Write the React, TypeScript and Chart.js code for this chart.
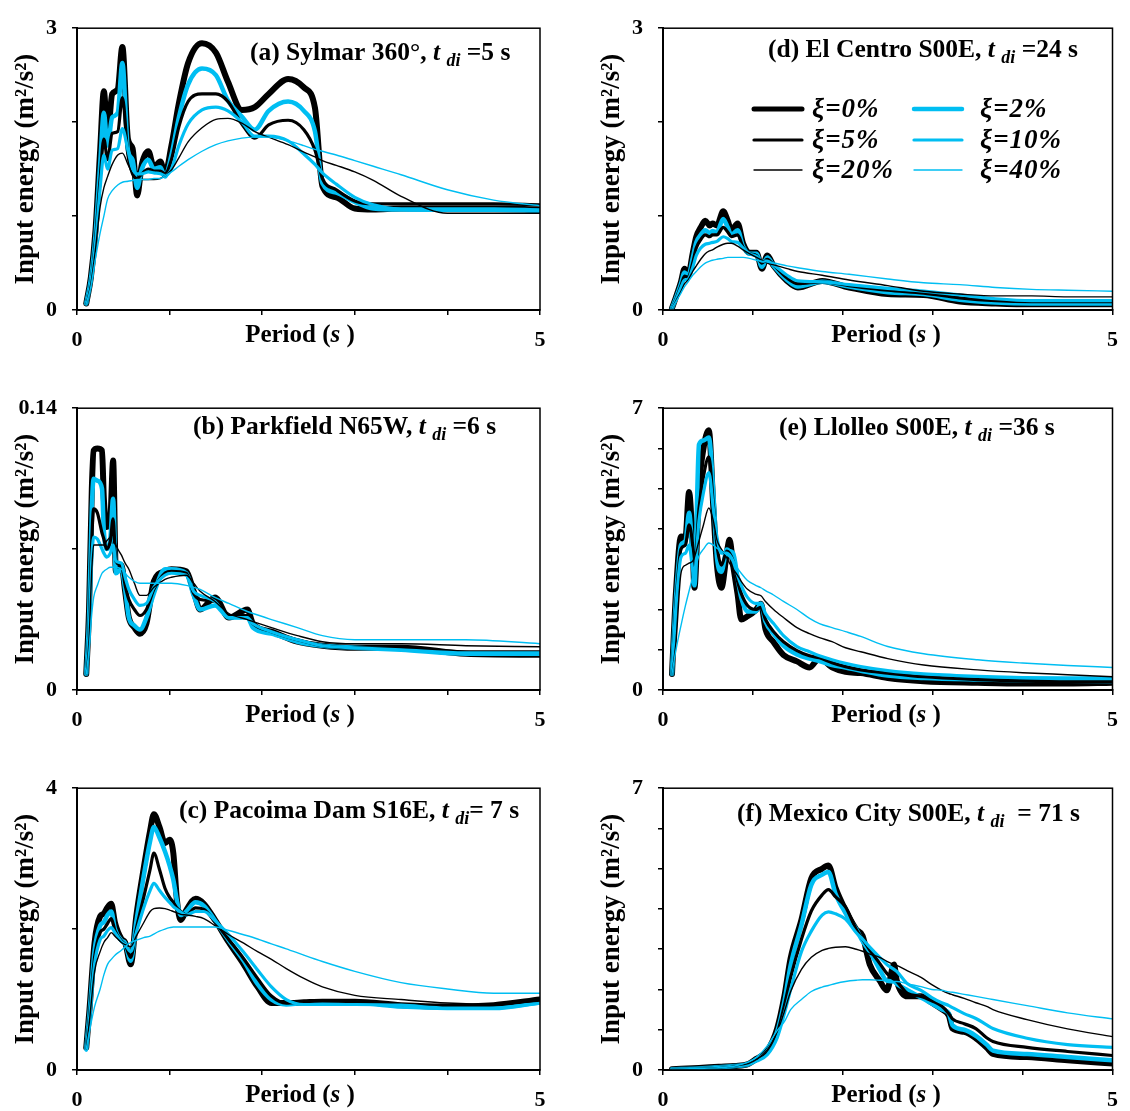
import React, { useEffect, useRef } from 'react';
import { Chart, registerables } from 'chart.js';

Chart.register(...registerables);

// ---------------- DATA ----------------
const dampingLabels = ['ξ=0%', 'ξ=2%', 'ξ=5%', 'ξ=10%', 'ξ=20%', 'ξ=40%'];
const xTickLabels = ['0', '5'];

// (a) Sylmar 360°
const sylmarPeriods = [0.1, 0.15, 0.2, 0.25, 0.29, 0.33, 0.38, 0.44, 0.49, 0.55, 0.6, 0.65, 0.7, 0.77, 0.83, 0.9, 0.95, 1.02, 1.1, 1.2, 1.35, 1.5, 1.63, 1.78, 1.92, 2.07, 2.28, 2.45, 2.57, 2.65, 2.8, 3.0, 3.2, 3.5, 4.0, 4.5, 5.0];
const sylmarXi0 = [0.07, 0.35, 0.85, 1.7, 2.33, 1.85, 2.3, 2.35, 2.8, 1.82, 1.72, 1.22, 1.55, 1.69, 1.52, 1.58, 1.45, 1.75, 2.2, 2.63, 2.84, 2.74, 2.43, 2.13, 2.16, 2.3, 2.46, 2.37, 2.15, 1.32, 1.2, 1.08, 1.07, 1.08, 1.08, 1.08, 1.07];
const sylmarXi2 = [0.07, 0.33, 0.8, 1.55, 2.1, 1.75, 2.05, 2.1, 2.63, 1.7, 1.6, 1.3, 1.5, 1.6, 1.5, 1.52, 1.42, 1.65, 2.05, 2.4, 2.57, 2.5, 2.23, 2.06, 1.92, 2.12, 2.22, 2.12, 1.9, 1.35, 1.25, 1.15, 1.08, 1.07, 1.07, 1.07, 1.06];
const sylmarXi5 = [0.07, 0.3, 0.75, 1.4, 1.82, 1.6, 1.88, 1.9, 2.26, 1.65, 1.45, 1.4, 1.45, 1.5, 1.48, 1.48, 1.45, 1.6, 1.95, 2.22, 2.3, 2.3, 2.22, 1.98, 1.83, 1.97, 2.02, 1.92, 1.7, 1.4, 1.28, 1.16, 1.13, 1.13, 1.13, 1.13, 1.12];
const sylmarXi10 = [0.07, 0.3, 0.7, 1.3, 1.65, 1.5, 1.7, 1.72, 1.93, 1.7, 1.5, 1.45, 1.45, 1.47, 1.46, 1.45, 1.43, 1.5, 1.75, 1.98, 2.13, 2.16, 2.12, 2.0, 1.85, 1.85, 1.8, 1.66, 1.55, 1.46, 1.34, 1.2, 1.12, 1.07, 1.06, 1.06, 1.05];
const sylmarXi20 = [0.07, 0.28, 0.65, 1.1, 1.3, 1.42, 1.55, 1.65, 1.67, 1.55, 1.45, 1.4, 1.39, 1.39, 1.39, 1.4, 1.43, 1.49, 1.62, 1.79, 1.94, 2.03, 2.04, 1.99, 1.9, 1.84, 1.76, 1.68, 1.63, 1.59, 1.54, 1.47, 1.38, 1.21, 1.03, 1.03, 1.03];
const sylmarXi40 = [0.07, 0.25, 0.55, 0.82, 1.0, 1.18, 1.27, 1.33, 1.36, 1.37, 1.38, 1.39, 1.39, 1.39, 1.4, 1.4, 1.43, 1.47, 1.53, 1.6, 1.69, 1.76, 1.8, 1.83, 1.84, 1.84, 1.8, 1.75, 1.71, 1.69, 1.65, 1.59, 1.53, 1.44, 1.28, 1.17, 1.11];

// (b) Parkfield N65W
const parkfieldPeriods = [0.1, 0.13, 0.16, 0.18, 0.22, 0.27, 0.29, 0.32, 0.36, 0.39, 0.42, 0.48, 0.52, 0.56, 0.62, 0.68, 0.75, 0.83, 0.95, 1.02, 1.18, 1.26, 1.33, 1.49, 1.64, 1.84, 1.9, 2.1, 2.38, 2.65, 3.0, 3.5, 4.2, 5.0];
const parkfieldXi0 = [0.008, 0.04, 0.1, 0.119, 0.12, 0.119, 0.095, 0.081, 0.085, 0.114, 0.059, 0.062, 0.049, 0.036, 0.031, 0.028, 0.033, 0.054, 0.059, 0.06, 0.059, 0.049, 0.04, 0.046, 0.036, 0.04, 0.033, 0.029, 0.024, 0.022, 0.021, 0.021, 0.018, 0.0175];
const parkfieldXi2 = [0.008, 0.035, 0.09, 0.105, 0.104, 0.1, 0.079, 0.07, 0.075, 0.095, 0.058, 0.06, 0.05, 0.036, 0.032, 0.03, 0.036, 0.048, 0.06, 0.06, 0.058, 0.047, 0.04, 0.042, 0.036, 0.036, 0.031, 0.028, 0.024, 0.022, 0.021, 0.02, 0.018, 0.018];
const parkfieldXi5 = [0.008, 0.03, 0.075, 0.09, 0.088, 0.078, 0.075, 0.07, 0.074, 0.085, 0.064, 0.062, 0.052, 0.045, 0.04, 0.037, 0.04, 0.05, 0.058, 0.059, 0.058, 0.048, 0.045, 0.044, 0.037, 0.037, 0.033, 0.029, 0.025, 0.022, 0.021, 0.021, 0.019, 0.019];
const parkfieldXi10 = [0.008, 0.028, 0.065, 0.076, 0.075, 0.07, 0.068, 0.066, 0.068, 0.072, 0.064, 0.063, 0.056, 0.05, 0.045, 0.042, 0.043, 0.051, 0.057, 0.058, 0.057, 0.049, 0.047, 0.044, 0.036, 0.036, 0.033, 0.029, 0.025, 0.022, 0.021, 0.02, 0.0185, 0.0185];
const parkfieldXi20 = [0.008, 0.025, 0.06, 0.072, 0.072, 0.072, 0.072, 0.074, 0.076, 0.077, 0.072, 0.067, 0.063, 0.06, 0.053, 0.047, 0.047, 0.051, 0.055, 0.056, 0.057, 0.053, 0.049, 0.044, 0.038, 0.035, 0.034, 0.031, 0.027, 0.024, 0.023, 0.023, 0.022, 0.0215];
const parkfieldXi40 = [0.008, 0.02, 0.038, 0.046, 0.052, 0.058, 0.059, 0.06, 0.061, 0.061, 0.061, 0.06, 0.058, 0.056, 0.054, 0.053, 0.053, 0.053, 0.053, 0.053, 0.052, 0.051, 0.05, 0.046, 0.043, 0.039, 0.038, 0.035, 0.031, 0.027, 0.025, 0.025, 0.025, 0.023];

// (c) Pacoima Dam S16E
const pacoimaPeriods = [0.1, 0.135, 0.19, 0.25, 0.29, 0.33, 0.37, 0.41, 0.48, 0.52, 0.58, 0.64, 0.72, 0.79, 0.83, 0.89, 0.95, 1.0, 1.04, 1.08, 1.12, 1.18, 1.28, 1.37, 1.49, 1.64, 1.8, 1.95, 2.1, 2.26, 2.45, 2.65, 3.0, 3.5, 4.0, 4.5, 5.0];
const pacoimaXi0 = [0.32, 0.86, 1.81, 2.18, 2.22, 2.31, 2.36, 2.09, 1.86, 1.81, 1.5, 2.18, 2.86, 3.4, 3.63, 3.45, 3.22, 3.27, 3.08, 2.4, 2.13, 2.27, 2.43, 2.36, 2.13, 1.81, 1.5, 1.18, 0.95, 0.95, 0.96, 0.97, 0.97, 0.92, 0.9, 0.92, 1.0];
const pacoimaXi2 = [0.3, 0.8, 1.7, 2.05, 2.1, 2.2, 2.25, 2.0, 1.84, 1.8, 1.55, 2.1, 2.75, 3.25, 3.45, 3.3, 3.1, 2.9, 2.7, 2.4, 2.2, 2.25, 2.38, 2.33, 2.12, 1.84, 1.55, 1.22, 1.0, 0.93, 0.95, 0.95, 0.95, 0.9, 0.88, 0.88, 0.96];
const pacoimaXi5 = [0.3, 0.78, 1.6, 1.95, 2.0, 2.08, 2.15, 1.98, 1.83, 1.78, 1.6, 2.0, 2.45, 2.85, 3.08, 2.85, 2.58, 2.45, 2.38, 2.3, 2.25, 2.2, 2.3, 2.28, 2.1, 1.85, 1.58, 1.3, 1.05, 0.95, 0.97, 0.98, 0.97, 0.93, 0.9, 0.92, 1.0];
const pacoimaXi10 = [0.28, 0.72, 1.5, 1.85, 1.9, 1.98, 2.02, 1.95, 1.82, 1.78, 1.68, 1.95, 2.3, 2.55, 2.65, 2.55, 2.45, 2.38, 2.32, 2.28, 2.24, 2.2, 2.25, 2.25, 2.12, 1.92, 1.67, 1.42, 1.18, 1.0, 0.93, 0.93, 0.93, 0.92, 0.88, 0.88, 0.95];
const pacoimaXi20 = [0.3, 0.7, 1.4, 1.68, 1.81, 1.88, 1.95, 1.9, 1.81, 1.78, 1.75, 1.9, 2.09, 2.25, 2.29, 2.3, 2.29, 2.27, 2.25, 2.23, 2.21, 2.2, 2.18, 2.15, 2.05, 1.92, 1.8, 1.68, 1.57, 1.44, 1.3, 1.18, 1.06, 1.0, 0.95, 0.93, 0.98];
const pacoimaXi40 = [0.3, 0.55, 0.9, 1.15, 1.35, 1.5, 1.57, 1.63, 1.7, 1.75, 1.81, 1.84, 1.88, 1.9, 1.93, 1.97, 2.0, 2.02, 2.03, 2.03, 2.03, 2.03, 2.03, 2.03, 2.03, 1.98, 1.92, 1.86, 1.79, 1.72, 1.63, 1.54, 1.4, 1.24, 1.15, 1.09, 1.09];

// (d) El Centro S00E
const elCentroPeriods = [0.1, 0.145, 0.2, 0.24, 0.28, 0.33, 0.37, 0.42, 0.47, 0.52, 0.55, 0.6, 0.67, 0.72, 0.76, 0.83, 0.89, 0.96, 1.04, 1.1, 1.16, 1.23, 1.38, 1.5, 1.77, 2.07, 2.5, 2.9, 3.3, 3.7, 4.1, 4.5, 5.0];
const elCentroXi0 = [0.02, 0.14, 0.3, 0.44, 0.37, 0.6, 0.78, 0.88, 0.95, 0.9, 0.92, 0.9, 1.05, 0.95, 0.85, 0.92, 0.71, 0.61, 0.61, 0.44, 0.58, 0.47, 0.31, 0.24, 0.31, 0.24, 0.17, 0.16, 0.09, 0.07, 0.06, 0.06, 0.06];
const elCentroXi2 = [0.02, 0.13, 0.28, 0.4, 0.36, 0.55, 0.72, 0.8, 0.85, 0.82, 0.84, 0.83, 0.97, 0.88, 0.8, 0.85, 0.68, 0.6, 0.6, 0.46, 0.56, 0.47, 0.32, 0.25, 0.3, 0.25, 0.19, 0.17, 0.11, 0.08, 0.07, 0.07, 0.07];
const elCentroXi5 = [0.02, 0.12, 0.26, 0.36, 0.35, 0.5, 0.66, 0.75, 0.8, 0.78, 0.8, 0.8, 0.88, 0.83, 0.78, 0.8, 0.67, 0.6, 0.58, 0.5, 0.54, 0.48, 0.34, 0.28, 0.3, 0.26, 0.21, 0.18, 0.13, 0.1, 0.09, 0.09, 0.09];
const elCentroXi10 = [0.02, 0.11, 0.24, 0.32, 0.33, 0.45, 0.58, 0.66, 0.7, 0.71, 0.72, 0.73, 0.78, 0.76, 0.73, 0.72, 0.66, 0.6, 0.57, 0.52, 0.52, 0.48, 0.37, 0.31, 0.3, 0.27, 0.23, 0.2, 0.16, 0.12, 0.1, 0.1, 0.1];
const elCentroXi20 = [0.02, 0.1, 0.2, 0.28, 0.32, 0.41, 0.47, 0.54, 0.6, 0.63, 0.64, 0.67, 0.7, 0.71, 0.71, 0.68, 0.64, 0.6, 0.56, 0.53, 0.5, 0.48, 0.44, 0.41, 0.37, 0.32, 0.26, 0.2, 0.17, 0.15, 0.15, 0.14, 0.14];
const elCentroXi40 = [0.02, 0.09, 0.18, 0.25, 0.3, 0.37, 0.41, 0.46, 0.5, 0.52, 0.53, 0.54, 0.55, 0.56, 0.56, 0.56, 0.56, 0.55, 0.53, 0.52, 0.51, 0.5, 0.47, 0.45, 0.41, 0.38, 0.33, 0.29, 0.27, 0.24, 0.22, 0.21, 0.2];

// (e) Llolleo S00E
const llolleoPeriods = [0.1, 0.145, 0.2, 0.25, 0.29, 0.33, 0.35, 0.4, 0.45, 0.51, 0.56, 0.6, 0.65, 0.71, 0.74, 0.78, 0.83, 0.87, 0.94, 1.03, 1.09, 1.14, 1.23, 1.34, 1.49, 1.63, 1.74, 1.88, 2.03, 2.2, 2.5, 2.9, 3.5, 4.0, 4.5, 5.0];
const llolleoXi0 = [0.4, 2.46, 3.81, 3.8, 4.92, 3.57, 2.54, 5.0, 6.0, 6.45, 4.52, 3.1, 2.54, 3.41, 3.73, 3.1, 2.38, 1.75, 1.83, 1.98, 2.14, 1.51, 1.19, 0.87, 0.71, 0.56, 0.79, 0.56, 0.45, 0.42, 0.3, 0.22, 0.18, 0.16, 0.16, 0.18];
const llolleoXi2 = [0.4, 2.3, 3.6, 3.7, 4.4, 3.3, 2.6, 6.1, 6.2, 6.27, 4.9, 3.3, 2.94, 3.49, 3.45, 3.4, 2.78, 2.3, 1.95, 1.95, 2.14, 1.7, 1.4, 1.1, 0.88, 0.78, 0.72, 0.62, 0.56, 0.48, 0.36, 0.3, 0.26, 0.24, 0.23, 0.22];
const llolleoXi5 = [0.4, 2.2, 3.5, 3.6, 4.1, 3.6, 3.0, 4.5, 5.3, 5.79, 4.6, 3.6, 3.1, 3.45, 3.4, 3.2, 2.7, 2.4, 2.1, 2.0, 2.05, 1.75, 1.45, 1.2, 0.98, 0.85, 0.8, 0.68, 0.58, 0.5, 0.42, 0.33, 0.26, 0.22, 0.2, 0.2];
const llolleoXi10 = [0.4, 2.1, 3.3, 3.4, 3.6, 3.0, 2.9, 4.2, 4.9, 5.4, 4.5, 3.8, 3.4, 3.4, 3.35, 3.2, 2.85, 2.6, 2.3, 2.15, 2.15, 1.9, 1.65, 1.35, 1.08, 0.95, 0.85, 0.75, 0.66, 0.58, 0.48, 0.4, 0.34, 0.31, 0.3, 0.3];
const llolleoXi20 = [0.4, 1.2, 2.9, 3.1, 3.15, 3.2, 3.3, 3.7, 4.1, 4.52, 4.2, 3.73, 3.5, 3.28, 3.15, 3.0, 2.85, 2.7, 2.5, 2.38, 2.34, 2.2, 2.0, 1.8, 1.55, 1.4, 1.3, 1.2, 1.05, 0.95, 0.78, 0.62, 0.5, 0.43, 0.38, 0.33];
const llolleoXi40 = [0.4, 1.0, 1.6, 2.1, 2.46, 2.8, 2.95, 3.33, 3.5, 3.65, 3.6, 3.52, 3.45, 3.35, 3.3, 3.2, 3.02, 2.9, 2.72, 2.6, 2.54, 2.47, 2.36, 2.2, 2.0, 1.78, 1.65, 1.55, 1.45, 1.33, 1.08, 0.9, 0.75, 0.67, 0.61, 0.56];

// (f) Mexico City S00E
const mexicoPeriods = [0.1, 0.4, 0.62, 0.8, 0.95, 1.04, 1.16, 1.27, 1.35, 1.42, 1.54, 1.65, 1.77, 1.84, 1.92, 2.03, 2.15, 2.22, 2.3, 2.41, 2.49, 2.57, 2.6, 2.72, 2.87, 2.99, 3.1, 3.18, 3.22, 3.35, 3.48, 3.6, 3.67, 4.05, 4.5, 5.0];
const mexicoXi0 = [0.02, 0.05, 0.08, 0.1, 0.15, 0.28, 0.48, 1.03, 1.83, 2.78, 3.73, 4.76, 5.0, 5.08, 4.52, 3.97, 3.49, 3.33, 2.62, 2.22, 1.98, 2.62, 2.22, 1.83, 1.83, 1.67, 1.51, 1.35, 1.03, 0.95, 0.79, 0.56, 0.4, 0.32, 0.24, 0.16];
const mexicoXi2 = [0.02, 0.04, 0.07, 0.1, 0.14, 0.25, 0.45, 0.95, 1.7, 2.6, 3.6, 4.6, 4.85, 4.92, 4.37, 3.9, 3.49, 3.2, 2.94, 2.5, 2.22, 2.2, 2.14, 1.98, 1.8, 1.65, 1.51, 1.4, 1.11, 1.0, 0.85, 0.63, 0.48, 0.4, 0.32, 0.24];
const mexicoXi5 = [0.02, 0.04, 0.07, 0.1, 0.14, 0.24, 0.42, 0.9, 1.6, 2.3, 3.25, 3.95, 4.35, 4.48, 4.3, 4.05, 3.49, 3.25, 2.98, 2.65, 2.4, 2.25, 2.2, 1.9, 1.83, 1.72, 1.59, 1.4, 1.27, 1.15, 1.03, 0.8, 0.71, 0.56, 0.46, 0.36];
const mexicoXi10 = [0.02, 0.04, 0.07, 0.1, 0.14, 0.22, 0.38, 0.8, 1.4, 2.0, 2.94, 3.45, 3.85, 3.93, 3.88, 3.75, 3.41, 3.25, 3.05, 2.8, 2.62, 2.5, 2.45, 2.14, 1.98, 1.8, 1.67, 1.6, 1.55, 1.4, 1.28, 1.12, 1.03, 0.79, 0.63, 0.56];
const mexicoXi20 = [0.02, 0.04, 0.06, 0.1, 0.16, 0.26, 0.5, 0.95, 1.45, 1.95, 2.5, 2.8, 2.97, 3.02, 3.05, 3.06, 3.0, 2.95, 2.88, 2.8, 2.7, 2.62, 2.6, 2.46, 2.3, 2.12, 1.98, 1.9, 1.87, 1.78, 1.67, 1.58, 1.5, 1.25, 1.02, 0.83];
const mexicoXi40 = [0.02, 0.04, 0.06, 0.1, 0.2, 0.32, 0.6, 0.98, 1.2, 1.5, 1.75, 1.95, 2.06, 2.1, 2.15, 2.2, 2.23, 2.24, 2.24, 2.23, 2.22, 2.2, 2.2, 2.14, 2.07, 2.0, 1.98, 1.94, 1.93, 1.88, 1.83, 1.78, 1.75, 1.6, 1.42, 1.27];

// ---------------- STYLE ----------------
const BLACK = '#000000';
const CYAN = '#00BEF2';
const SERIF = '"Liberation Serif", "Times New Roman", serif';
const seriesStyles = [
  { color: BLACK, width: 6 },
  { color: CYAN, width: 4.5 },
  { color: BLACK, width: 3.2 },
  { color: CYAN, width: 3.2 },
  { color: BLACK, width: 1.4 },
  { color: CYAN, width: 1.4 },
];

type Part = { text: string; italic?: boolean; sub?: boolean };
const titleParts = (prefix: string, suffix: string): Part[] => [
  { text: prefix },
  { text: 't', italic: true },
  { text: ' ' },
  { text: 'di', italic: true, sub: true },
  { text: suffix },
];

const panels = [
  { key: 'a', left: 0, top: 0, width: 560, height: 370, padTop: 14, padRight: 20, yW: 77, xH: 60, yMax: 3, yStep: 1,
    periods: sylmarPeriods, series: [sylmarXi0, sylmarXi2, sylmarXi5, sylmarXi10, sylmarXi20, sylmarXi40],
    title: titleParts('(a) Sylmar 360°, ', ' =5 s'), titleX: 250, titleY: 60, yTitlePad: 10, periodX: 300, legend: false },
  { key: 'b', left: 0, top: 380, width: 560, height: 370, padTop: 16, padRight: 20, yW: 77, xH: 60, yMax: 0.14, yStep: 0.07,
    periods: parkfieldPeriods, series: [parkfieldXi0, parkfieldXi2, parkfieldXi5, parkfieldXi10, parkfieldXi20, parkfieldXi40],
    title: titleParts('(b) Parkfield N65W, ', ' =6 s'), titleX: 193, titleY: 434, yTitlePad: 10, periodX: 300, legend: false },
  { key: 'c', left: 0, top: 760, width: 560, height: 351, padTop: 16, padRight: 20, yW: 77, xH: 41, yMax: 4, yStep: 2,
    periods: pacoimaPeriods, series: [pacoimaXi0, pacoimaXi2, pacoimaXi5, pacoimaXi10, pacoimaXi20, pacoimaXi40],
    title: titleParts('(c) Pacoima Dam S16E, ', '= 7 s'), titleX: 179, titleY: 818, yTitlePad: 10, periodX: 300, legend: false },
  { key: 'd', left: 580, top: 0, width: 550, height: 370, padTop: 14, padRight: 7, yW: 83, xH: 60, yMax: 3, yStep: 1,
    periods: elCentroPeriods, series: [elCentroXi0, elCentroXi2, elCentroXi5, elCentroXi10, elCentroXi20, elCentroXi40],
    title: titleParts('(d) El Centro S00E, ', ' =24 s'), titleX: 768, titleY: 57, yTitlePad: 16, periodX: 886, legend: true },
  { key: 'e', left: 580, top: 380, width: 550, height: 370, padTop: 16, padRight: 7, yW: 83, xH: 60, yMax: 7, yStep: 1,
    periods: llolleoPeriods, series: [llolleoXi0, llolleoXi2, llolleoXi5, llolleoXi10, llolleoXi20, llolleoXi40],
    title: titleParts('(e) Llolleo S00E, ', ' =36 s'), titleX: 779, titleY: 435, yTitlePad: 16, periodX: 886, legend: false },
  { key: 'f', left: 580, top: 760, width: 550, height: 351, padTop: 16, padRight: 7, yW: 83, xH: 41, yMax: 7, yStep: 1,
    periods: mexicoPeriods, series: [mexicoXi0, mexicoXi2, mexicoXi5, mexicoXi10, mexicoXi20, mexicoXi40],
    title: titleParts('(f) Mexico City S00E, ', '  = 71 s'), titleX: 737, titleY: 821, yTitlePad: 16, periodX: 886, legend: false },
];

type PanelCfg = typeof panels[number];

function drawRich(ctx: CanvasRenderingContext2D, parts: Part[], x: number, y: number, size: number, align: 'left' | 'center') {
  const fontOf = (p: Part) => {
    const fs = p.sub ? Math.round(size * 0.72) : size;
    return `${p.italic ? 'italic ' : ''}bold ${fs}px ${SERIF}`;
  };
  let total = 0;
  for (const p of parts) { ctx.font = fontOf(p); total += ctx.measureText(p.text).width; }
  let cx = align === 'center' ? x - total / 2 : x;
  ctx.textAlign = 'left';
  ctx.textBaseline = 'alphabetic';
  for (const p of parts) {
    ctx.font = fontOf(p);
    ctx.fillText(p.text, cx, y + (p.sub ? size * 0.22 : 0));
    cx += ctx.measureText(p.text).width;
  }
}

function makeTextPlugin(p: PanelCfg) {
  return {
    id: 'panelText' + p.key,
    afterDraw(chart: any) {
      const ctx: CanvasRenderingContext2D = chart.ctx;
      const ca = chart.chartArea;
      ctx.save();
      // frame around plot area
      ctx.strokeStyle = BLACK;
      ctx.lineWidth = 1.5;
      ctx.strokeRect(ca.left, ca.top, ca.right - ca.left, ca.bottom - ca.top);
      ctx.fillStyle = BLACK;
      // panel title
      drawRich(ctx, p.title, p.titleX - p.left, p.titleY - p.top, 25.5, 'left');
      // x axis title
      drawRich(ctx, [{ text: 'Period (' }, { text: 's', italic: true }, { text: ' )' }], p.periodX - p.left, ca.bottom + 32, 25, 'center');
      // legend
      if (p.legend) {
        const rows = [109, 140, 170];
        const cols = [{ l0: 754, l1: 802, t: 812 }, { l0: 914, l1: 962, t: 980 }];
        chart.data.datasets.forEach((ds: any, i: number) => {
          const col = cols[i % 2];
          const y = rows[Math.floor(i / 2)] - p.top;
          ctx.beginPath();
          ctx.strokeStyle = ds.borderColor;
          ctx.lineWidth = Math.min(ds.borderWidth, 5);
          ctx.lineCap = 'round';
          ctx.moveTo(col.l0 - p.left, y);
          ctx.lineTo(col.l1 - p.left, y);
          ctx.stroke();
          ctx.font = `italic bold 27px ${SERIF}`;
          (ctx as any).letterSpacing = '1px';
          ctx.textAlign = 'left';
          ctx.textBaseline = 'middle';
          ctx.fillStyle = BLACK;
          ctx.fillText(ds.label, col.t - p.left, y + 1);
          (ctx as any).letterSpacing = '0px';
        });
      }
      ctx.restore();
    },
  };
}

function buildConfig(p: PanelCfg): any {
  const tickFont = { family: SERIF, size: 22, weight: 'bold' as const };
  return {
    type: 'line',
    data: {
      datasets: p.series.map((vals, i) => ({
        label: dampingLabels[i],
        data: p.periods.map((t, k) => ({ x: t, y: vals[k] })),
        borderColor: seriesStyles[i].color,
        backgroundColor: seriesStyles[i].color,
        borderWidth: seriesStyles[i].width,
        pointRadius: 0,
        cubicInterpolationMode: 'monotone',
        fill: false,
        borderJoinStyle: 'round',
        borderCapStyle: 'round',
        order: 6 - i,
      })),
    },
    options: {
      animation: false,
      responsive: false,
      maintainAspectRatio: false,
      events: [],
      layout: { padding: { top: p.padTop, right: p.padRight, left: 0, bottom: 0 } },
      plugins: { legend: { display: false }, tooltip: { enabled: false }, title: { display: false } },
      scales: {
        x: {
          type: 'linear', min: 0, max: 5,
          ticks: {
            stepSize: 1, autoSkip: false, maxRotation: 0, padding: 12, color: BLACK, font: tickFont,
            callback: (v: number) => (v === 0 ? xTickLabels[0] : v === 5 ? xTickLabels[1] : ''),
          },
          grid: { display: true, drawOnChartArea: false, drawTicks: true, tickLength: 5, color: BLACK, lineWidth: 1.5 },
          border: { display: true, color: BLACK, width: 2 },
          afterFit: (s: any) => { s.height = p.xH; },
        },
        y: {
          type: 'linear', min: 0, max: p.yMax,
          ticks: {
            stepSize: p.yStep, autoSkip: false, padding: 15, color: BLACK, font: tickFont,
            callback: (v: number, idx: number, ticks: any[]) =>
              idx === 0 || idx === ticks.length - 1 ? String(Math.round(v * 100) / 100) : '',
          },
          grid: { display: true, drawOnChartArea: false, drawTicks: true, tickLength: 5, color: BLACK, lineWidth: 1.5 },
          border: { display: true, color: BLACK, width: 2 },
          title: {
            display: true, text: 'Input energy (m²/s²)', color: BLACK,
            font: { family: SERIF, size: 27, weight: 'bold' }, padding: { top: p.yTitlePad, bottom: 0 },
          },
          afterFit: (s: any) => { s.width = p.yW; },
        },
      },
    },
    plugins: [makeTextPlugin(p)],
  };
}

function Panel({ cfg }: { cfg: PanelCfg }) {
  const ref = useRef<HTMLCanvasElement>(null);
  useEffect(() => {
    const chart = new Chart(ref.current as HTMLCanvasElement, buildConfig(cfg));
    return () => chart.destroy();
  }, [cfg]);
  return (
    <canvas
      ref={ref}
      width={cfg.width}
      height={cfg.height}
      style={{ position: 'absolute', left: cfg.left, top: cfg.top, width: cfg.width, height: cfg.height }}
    />
  );
}

export default function App() {
  return (
    <div style={{ position: 'absolute', left: 0, top: 0, width: 1130, height: 1111, background: '#ffffff', overflow: 'hidden' }}>
      {panels.map((p) => (
        <Panel key={p.key} cfg={p} />
      ))}
    </div>
  );
}
